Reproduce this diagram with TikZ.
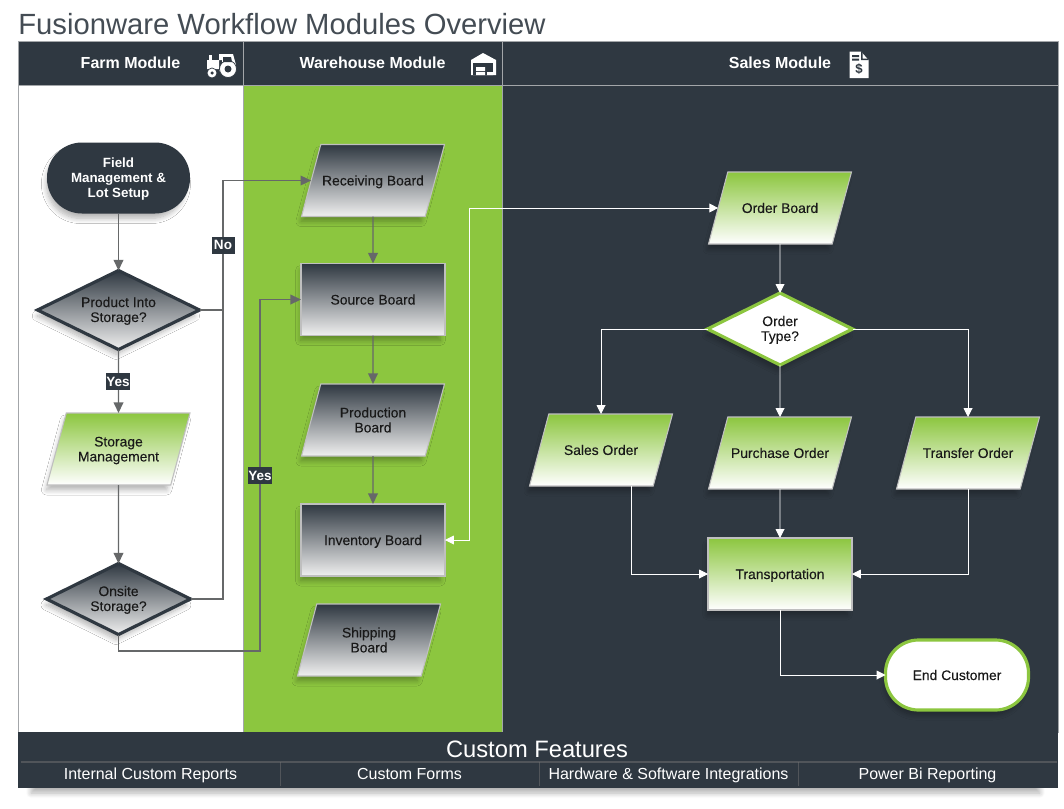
\documentclass[tikz,border=0pt]{standalone}
\usepackage{fontspec}
\setmainfont{Liberation Sans}
\newfontfamily\boardfont[FakeBold=.1]{Liberation Sans}
\usetikzlibrary{positioning,shapes.geometric,arrows.meta,shadows.blur}
\definecolor{slate}{HTML}{2F3841}
\definecolor{leaf}{HTML}{8CC63F}
\definecolor{frameline}{HTML}{A3A6A9}
\definecolor{wire}{HTML}{666869}
\tikzset{lane head/.style={rectangle,draw=frameline,fill=slate,text=white,font=\fontsize{9.1}{11}\selectfont\bfseries,minimum height=.88cm,outer sep=0pt,anchor=north west},
lane body/.style={rectangle,draw=frameline,minimum height=12.94cm,outer sep=0pt,anchor=north west},
soft shadow/.style={blur shadow={shadow xshift=-1.5pt,shadow yshift=-3.5pt,shadow blur radius=3pt,shadow blur steps=8,shadow opacity=30,shadow scale=.97}},
main text/.style={font=\boardfont\fontsize{7.9}{8.5}\selectfont,text=black!90,align=center,inner sep=0pt,outer sep=0pt,text depth=-.6pt},
gray grad/.style={top color=slate,bottom color=black!6},
green grad/.style={top color=leaf,bottom color=white},
slant node/.style={main text,shape=trapezium,trapezium left angle=75,trapezium right angle=105,trapezium stretches body=true,minimum width=2.86cm,text height=.72cm+2.8pt,text depth=.72cm-2.8pt,draw=black!25,line width=.6pt,soft shadow},
slant two/.style={slant node,text height=.72cm+7.05pt,text depth=.72cm-7.05pt},
box node/.style={main text,rectangle,minimum width=2.88cm,minimum height=1.44cm,draw=black!25,line width=.6pt,soft shadow},
choice node/.style={main text,shape=diamond,aspect=2,line width=1.8pt,soft shadow,text depth=.6pt},
branch tag/.style={rectangle,fill=slate,text=white,font=\fontsize{7.7}{8}\selectfont\bfseries,minimum width=.46cm,minimum height=.34cm,inner sep=0pt},
gray flow/.style={draw=wire,line width=.75pt,-{Triangle[length=6pt,width=5.5pt,fill=wire]}},
white flow/.style={draw=white,line width=.5pt,-{Triangle[length=5pt,width=5pt,fill=white]}},
cell node/.style={rectangle,text=white,font=\fontsize{9.1}{11}\selectfont,minimum width=5.18cm,minimum height=.48cm,inner sep=0pt,outer sep=0pt,text depth=0pt}}

\begin{document}
\begin{tikzpicture}
\useasboundingbox (0,0) rectangle (21.28,-16.16);

  \node[anchor=west,inner sep=0pt,text=slate!90,font=\fontsize{16.63}{18}\selectfont] (title) at (.36,-.49) {Fusionware Workflow Modules Overview};

  \node[lane head,minimum width=4.5cm] (farmhead) at (.36,-.82) {Farm Module};
  \node[lane head,minimum width=5.18cm] (warehead) at (farmhead.north east) {Warehouse Module};
  \node[lane head,minimum width=11.12cm] (saleshead) at (warehead.north east) {Sales Module};
  \node[lane body,fill=white,minimum width=4.5cm] (farmlane) at (farmhead.south west) {};
  \node[lane body,fill=leaf,minimum width=5.18cm] (warelane) at (warehead.south west) {};
  \node[lane body,fill=slate,minimum width=11.12cm] (saleslane) at (saleshead.south west) {};

  % header icons
  \fill[white] (4.14,-1.2) rectangle (4.44,-1.38) (4.38,-1.08) -- (4.66,-1.08) -- (4.72,-1.3) -- (4.5,-1.42) -- (4.38,-1.42) -- cycle;
  \fill[white] (4.18,-1.1) rectangle (4.23,-1.2);
  \fill[white,draw=slate,line width=.4pt] (4.56,-1.38) circle (.17) (4.24,-1.46) circle (.1);
  \fill[slate] (4.56,-1.38) circle (.07) (4.24,-1.46) circle (.035) (4.46,-1.14) -- (4.62,-1.14) -- (4.64,-1.24) -- (4.46,-1.24) -- cycle;
  \fill[white] (9.42,-1.5) rectangle (9.92,-1.2) -- (9.66,-1.06) -- (9.42,-1.2) -- cycle;
  \fill[slate] (9.46,-1.26) rectangle (9.86,-1.5);
  \fill[white] (9.52,-1.34) rectangle (9.7,-1.42) (9.52,-1.44) rectangle (9.7,-1.5) (9.74,-1.44) rectangle (9.86,-1.5);
  \fill[white] (16.99,-1.03) -- (17.22,-1.03) -- (17.37,-1.2) -- (17.37,-1.56) -- (16.99,-1.56) -- cycle;
  \fill[slate] (17.22,-1.03) -- (17.22,-1.2) -- (17.37,-1.2) -- (17.36,-1.17) -- (17.25,-1.17) -- (17.25,-1.06) -- cycle;
  \fill[slate] (17.04,-1.1) rectangle (17.18,-1.14) (17.04,-1.17) rectangle (17.18,-1.21);
  \node[inner sep=0pt,text=slate,font=\fontsize{7.5}{8}\selectfont\bfseries] (dollar) at (17.18,-1.39) {\$};

\begin{scope}[on grid]

  \node[main text,rectangle,fill=slate,text=white,font=\fontsize{7.6}{8.5}\selectfont\bfseries,minimum width=2.86cm,minimum height=1.42cm,rounded corners=.7cm,soft shadow] (field) at (2.37,-3.56) {Field\\Management \&\\Lot Setup};
  \node[choice node,gray grad,draw=slate,minimum width=3.24cm,minimum height=1.58cm] (prodinto) [below=2.64cm of field] {Product Into\\Storage?};
  \node[slant two,green grad] (storage) [below=2.78cm of prodinto] {Storage\\Management};
  \node[choice node,gray grad,draw=slate,minimum width=2.88cm,minimum height=1.42cm] (onsite) [below=3cm of storage] {Onsite\\Storage?};

  \node[slant node,gray grad] (receiving) [below right=.05cm and 5.09cm of field] {Receiving Board};
  \node[box node,gray grad] (source) [below=2.38cm of receiving] {Source Board};
  \node[slant two,gray grad] (production) [below=2.41cm of source] {Production\\Board};
  \node[box node,gray grad] (inventory) [below=2.4cm of production] {Inventory Board};
  \node[slant two,gray grad] (shipping) [below left=2cm and .08cm of inventory] {Shipping\\Board};

  \node[slant node,green grad] (order) [below right=.55cm and 8.14cm of receiving] {Order Board};
  \node[choice node,fill=white,draw=leaf,minimum width=2.9cm,minimum height=1.44cm] (ordertype) [below=2.42cm of order] {Order\\Type?};
  \node[slant node,green grad] (purchase) [below=2.48cm of ordertype] {Purchase Order};
  \node[slant node,green grad] (sales) [below left=2.42cm and 3.58cm of ordertype] {Sales Order};
  \node[slant node,green grad] (transfer) [below right=2.48cm and 3.76cm of ordertype] {Transfer Order};
  \node[box node,green grad] (transport) [below=2.42cm of purchase] {Transportation};
  \node[main text,rectangle,fill=white,draw=leaf,line width=1.8pt,minimum width=2.86cm,minimum height=1.4cm,rounded corners=.66cm,soft shadow] (endcustomer) [below right=2.02cm and 3.54cm of transport] {End Customer};

  \coordinate[left=1.76cm of receiving.west] (nocorner);
  \coordinate[left=.82cm of source.west] (yescorner);
  \coordinate[below=1.04cm of onsite] (onsitedrop);
  \coordinate[left=4.98cm of order.west] (wirecorner);

  \path[gray flow]
    (field) edge (prodinto)
    (prodinto) edge (storage)
    (storage) edge (onsite)
    (receiving) edge (source)
    (source) edge (production)
    (production) edge (inventory);
  \draw[gray flow] (prodinto.east) -| (nocorner) -- (receiving.west);
  \draw[gray flow,-] (onsite.east) -| (nocorner);
  \draw[gray flow] (onsite.south) -- (onsitedrop) -| (yescorner) -- (source.west);

  \draw[white flow,{Triangle[length=5pt,width=5pt,fill=white]}-{Triangle[length=5pt,width=5pt,fill=white]}] (inventory.east) -| (wirecorner) -- (order.west);
  \path[white flow]
    (order) edge (ordertype)
    (ordertype) edge (purchase)
    (purchase) edge (transport);
  \draw[white flow] (ordertype.west) -| (sales.north);
  \draw[white flow] (ordertype.east) -| (transfer.north);
  \draw[white flow] ([xshift=.6cm]sales.south) |- (transport.west);
  \draw[white flow] (transfer.south) |- (transport.east);
  \draw[white flow] (transport.south) |- (endcustomer.west);

  \node[branch tag] (notag) at (4.46,-4.9) {No};
  \node[branch tag] (yestag) at (2.36,-7.63) {Yes};
  \node[branch tag] (yestagtwo) at (5.2,-9.51) {Yes};

\end{scope}

  \node[rectangle,fill=slate,minimum width=20.8cm,minimum height=1.12cm,outer sep=0pt,anchor=north west,soft shadow] (featurebar) at (.36,-14.64) {};
  \node[text=white,inner sep=0pt,font=\fontsize{13.5}{15}\selectfont] (featuretitle) at (10.74,-14.98) {Custom Features};
  \node[cell node] (cell1) at (3.01,-15.48) {Internal Custom Reports};
  \node[cell node] (cell2) [right=0cm of cell1] {Custom Forms};
  \node[cell node] (cell3) [right=0cm of cell2] {Hardware \& Software Integrations};
  \node[cell node] (cell4) [right=0cm of cell3] {Power Bi Reporting};
  \draw[black!55!white,opacity=.5,line width=.6pt] (cell1.north west) -- (cell4.north east);
  \foreach \i in {1,2,3}
    \draw[black!55!white,opacity=.5,line width=.5pt] (cell\i.north east) -- (cell\i.south east);
\end{tikzpicture}
\end{document}
